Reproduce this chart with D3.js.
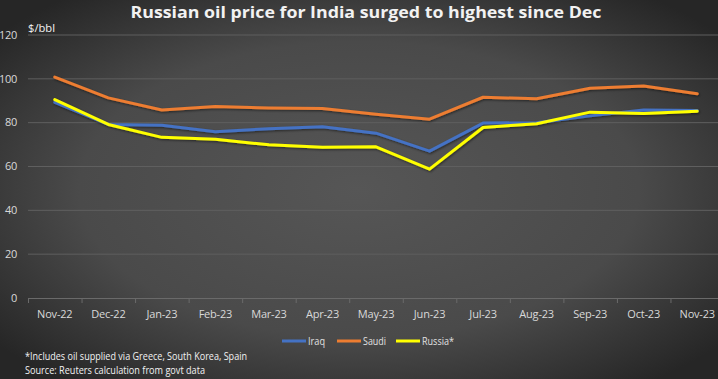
<!DOCTYPE html>
<html><head><meta charset="utf-8">
<script src="https://cdn.jsdelivr.net/npm/d3@7"></script>
<style>
html,body{margin:0;padding:0;background:#3a3a3a;}
svg{display:block;}
</style></head><body>
<svg id="c" width="718" height="379"></svg>
<script>
const categories = ["Nov-22","Dec-22","Jan-23","Feb-23","Mar-23","Apr-23","May-23","Jun-23","Jul-23","Aug-23","Sep-23","Oct-23","Nov-23"];
const iraq   = [89.3, 79.2, 78.8, 75.9, 77.2, 78.1, 75.2, 67.0, 79.8, 80.0, 83.1, 85.8, 85.5];
const saudi  = [100.8, 91.3, 85.8, 87.4, 86.7, 86.5, 83.8, 81.6, 91.6, 90.9, 95.7, 96.7, 93.2];
const russia = [90.5, 79.2, 73.3, 72.4, 69.9, 68.8, 69.0, 58.8, 77.8, 79.5, 84.8, 84.2, 85.2];
const yTicks = [0, 20, 40, 60, 80, 100, 120];
const seriesNames = ["Iraq", "Saudi", "Russia*"];
const seriesColors = ["#4472C4", "#ED7D31", "#FFFF00"];
const title = "Russian oil price for India surged to highest since Dec";
const unitLabel = "$/bbl";
const notes = ["*Includes oil supplied via Greece, South Korea, Spain", "Source: Reuters calculation from govt data"];

const W = 718, H = 379;
const svg = d3.select("#c");
const font = "'Open Sans',sans-serif";

const defs = svg.append("defs");
const rg = defs.append("radialGradient").attr("id","bg")
  .attr("cx","50%").attr("cy","50%").attr("r","65%");
rg.append("stop").attr("offset","0%").attr("stop-color","#565656");
rg.append("stop").attr("offset","60%").attr("stop-color","#4a4a4a");
rg.append("stop").attr("offset","100%").attr("stop-color","#262626");
svg.append("rect").attr("width",W).attr("height",H).attr("fill","url(#bg)");

const f = defs.append("filter").attr("id","sh").attr("x","-5%").attr("y","-20%").attr("width","110%").attr("height","140%");
f.append("feDropShadow").attr("dx",0.8).attr("dy",1.2).attr("stdDeviation",0.8).attr("flood-color","#000").attr("flood-opacity",0.5);

const x = d3.scaleBand().domain(categories).range([28, 724]);
const y = d3.scaleLinear().domain([0, 120]).range([298, 35]);

// gridlines
svg.append("g").selectAll("line").data(yTicks.filter(t=>t>0)).join("line")
  .attr("x1",28).attr("x2",W).attr("y1",d=>y(d)).attr("y2",d=>y(d))
  .attr("stroke","#5f5f5f").attr("stroke-width",1);

// y axis labels
const yAxis = d3.axisLeft(y).tickValues(yTicks).tickSize(0).tickPadding(0);
const ga = svg.append("g").attr("transform","translate(17,0)").call(yAxis);
ga.select(".domain").remove();
ga.selectAll("text").attr("fill","#d9d9d9").attr("font-size",11).attr("font-family",font)
  .attr("text-anchor","end").attr("dy","0.3em").attr("letter-spacing","-0.3");

// x axis
const xAxis = d3.axisBottom(x).tickSize(0).tickPadding(12);
const gx = svg.append("g").attr("transform","translate(0,298)").call(xAxis);
gx.select(".domain").attr("stroke","#6a6a6a").attr("d","M28,0.5H718");
gx.selectAll("text").attr("fill","#d9d9d9").attr("font-size",11).attr("font-family",font).attr("letter-spacing","-0.2");
svg.append("g").selectAll("line").data(categories).join("line")
  .attr("x1",d=>x(d)+0.5).attr("x2",d=>x(d)+0.5).attr("y1",298).attr("y2",303)
  .attr("stroke","#6a6a6a");

// lines
const allSeries = [iraq, saudi, russia];
const line = d3.line().x((d,i)=>x(categories[i]) + x.bandwidth()/2).y(d=>y(d));
svg.append("g").attr("filter","url(#sh)").selectAll("path").data(allSeries).join("path")
  .attr("d", line).attr("fill","none")
  .attr("stroke",(d,i)=>seriesColors[i]).attr("stroke-width",3)
  .attr("stroke-linejoin","round").attr("stroke-linecap","round");

// title
svg.append("text").attr("x",366).attr("y",17.5).attr("text-anchor","middle")
  .attr("fill","#f2f2f2").attr("font-weight","bold").attr("font-size",16).attr("font-family",font)
  .attr("textLength",471).attr("lengthAdjust","spacingAndGlyphs")
  .text(title);
svg.append("text").attr("x",28).attr("y",32).attr("fill","#f2f2f2").attr("font-size",11).attr("font-family",font)
  .attr("textLength",27).attr("lengthAdjust","spacingAndGlyphs").text(unitLabel);

// legend
const legX = [282, 337, 396];
const legW = [17, 23, 32];
const lg = svg.append("g");
seriesNames.forEach((n,i)=>{
  lg.append("line").attr("x1",legX[i]).attr("x2",legX[i]+24).attr("y1",341).attr("y2",341)
    .attr("stroke",seriesColors[i]).attr("stroke-width",3);
  lg.append("text").attr("x",legX[i]+26).attr("y",344.5).attr("fill","#e0e0e0").attr("font-size",10).attr("font-family",font)
    .attr("textLength",legW[i]).attr("lengthAdjust","spacingAndGlyphs").text(n);
});

// notes
const noteW = [222, 180];
notes.forEach((t,i)=>{
  svg.append("text").attr("x",25).attr("y",360+i*13.5).attr("fill","#f2f2f2").attr("font-size",10.5).attr("font-family",font)
    .attr("textLength",noteW[i]).attr("lengthAdjust","spacingAndGlyphs").text(t);
});
</script>
</body></html>
